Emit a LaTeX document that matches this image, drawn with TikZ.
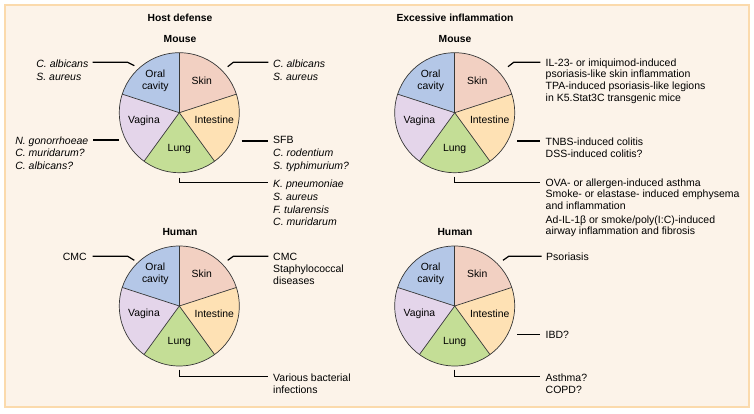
\documentclass[tikz,border=0pt]{standalone}
\usepackage{fontspec}
\setmainfont{Liberation Sans}
\usetikzlibrary{calc}
\definecolor{panelbg}{RGB}{252,243,233}
\definecolor{panelframe}{RGB}{251,218,172}
\definecolor{cOral}{RGB}{180,199,231}
\definecolor{cSkin}{RGB}{242,208,194}
\definecolor{cInt}{RGB}{254,225,180}
\definecolor{cLung}{RGB}{196,222,150}
\definecolor{cVag}{RGB}{228,213,234}
\definecolor{pieline}{RGB}{55,55,55}
\newcommand{\organpie}[2]{%
  \coordinate (#1) at #2;
  \fill[cSkin] (#1) -- ++(-90:60) arc[start angle=-90,end angle=-18,radius=60] -- cycle;
  \fill[cInt]  (#1) -- ++(-18:60) arc[start angle=-18,end angle=54,radius=60] -- cycle;
  \fill[cLung] (#1) -- ++(54:60) arc[start angle=54,end angle=126,radius=60] -- cycle;
  \fill[cVag]  (#1) -- ++(126:60) arc[start angle=126,end angle=198,radius=60] -- cycle;
  \fill[cOral] (#1) -- ++(198:60) arc[start angle=198,end angle=270,radius=60] -- cycle;
  \draw[pieedge] (#1) circle[radius=60];
  \foreach \a in {-90,-18,54,126,198} \draw[pieedge] (#1) -- ++(\a:60);
  \node[slice] (#1-oral) at ($(#1)+(-24,-32)$) {Oral\\cavity};
  \node[slice] (#1-skin) at ($(#1)+(22.5,-32)$) {Skin};
  \node[slice] (#1-int)  at ($(#1)+(35,7.5)$) {Intestine};
  \node[slice] (#1-vag)  at ($(#1)+(-35.3,8.2)$) {Vagina};
  \node[slice] (#1-lung) at ($(#1)+(0,36)$) {Lung};
}
\begin{document}
\begin{tikzpicture}[x=1pt,y=-1pt,
  lbl/.style={font=\fontsize{10.5}{11.8}\selectfont, inner sep=0pt, align=left},
  ilbl/.style={lbl, font=\fontsize{10.5}{11.8}\selectfont\itshape},
  titletext/.style={font=\fontsize{10.3}{12}\selectfont\bfseries, inner sep=0pt},
  slice/.style={font=\fontsize{10.4}{12.5}\selectfont, inner sep=0pt, align=center},
  pieedge/.style={pieline, line width=0.7pt},
  conn/.style={line width=1.2pt, black},
]
\useasboundingbox (0,0) rectangle (754,414);
\fill[white] (0,0) rectangle (754,414);
\draw[panelframe, line width=1.6pt, fill=panelbg] (5,5) rectangle (749,407);

% titles
\node[titletext] (tHost) at (180,18.3) {Host defense};
\node[titletext] (tExc) at (455,18.3) {Excessive inflammation};
\node[titletext] (tMouseL) at (180,39) {Mouse};
\node[titletext] (tMouseR) at (455,39) {Mouse};
\node[titletext] (tHumanL) at (180,232) {Human};
\node[titletext] (tHumanR) at (455,232) {Human};

% pies
\organpie{tl}{(179.3,112.7)}
\organpie{tr}{(454.7,112.7)}
\organpie{bl}{(179.3,306)}
\organpie{br}{(454.7,306)}

% ---------- top left ----------
\coordinate (tlOa) at (134.3,65.7); \coordinate (tlOb) at (127.7,62.3); \coordinate (tlOc) at (92.7,62.3);
\draw[conn] (tlOa) -- (tlOb) -- (tlOc);
\node[ilbl, anchor=north east] (tlOlab) at (88.5,59.5) {C. albicans\\[1pt]S. aureus};

\coordinate (tlSa) at (227.7,66.7); \coordinate (tlSb) at (233.3,62.3); \coordinate (tlSc) at (268.3,62.3);
\draw[conn] (tlSa) -- (tlSb) -- (tlSc);
\node[ilbl, anchor=north west] (tlSlab) at (273,59.5) {C. albicans\\[1pt]S. aureus};

\coordinate (tlIa) at (241.7,141); \coordinate (tlIb) at (268.3,141);
\draw[conn] (tlIa) -- (tlIb);
\node[lbl, anchor=north west] (tlIlab) at (273,136.2) {SFB\\[1.2pt]\textit{C. rodentium}\\[1.2pt]\textit{S. typhimurium?}};

\coordinate (tlVa) at (119,140); \coordinate (tlVb) at (92.7,140);
\draw[conn] (tlVa) -- (tlVb);
\node[ilbl, anchor=north east] (tlVlab) at (88.5,136.2) {N. gonorrhoeae\\[1pt]C. muridarum?\\[1pt]C. albicans?};

\coordinate (tlLa) at (179.3,177.7); \coordinate (tlLb) at (179.3,182.3); \coordinate (tlLc) at (268.3,182.3);
\draw[conn] (tlLa) -- (tlLb) -- (tlLc);
\node[ilbl, anchor=north west] (tlLlab) at (273,179.7) {K. pneumoniae\\[1pt]S. aureus\\[1pt]F. tularensis\\[1pt]C. muridarum};

% ---------- top right ----------
\coordinate (trSa) at (508,66.7); \coordinate (trSb) at (513.7,62.3); \coordinate (trSc) at (540.3,62.3);
\draw[conn] (trSa) -- (trSb) -- (trSc);
\node[lbl, anchor=north west] (trSlab) at (545.5,58.3) {IL-23- or imiquimod-induced\\psoriasis-like skin inflammation\\TPA-induced psoriasis-like legions\\in K5.Stat3C transgenic mice};

\coordinate (trIa) at (517,141); \coordinate (trIb) at (540.3,141);
\draw[conn] (trIa) -- (trIb);
\node[lbl, anchor=north west] (trIlab) at (545.5,137.2) {TNBS-induced colitis\\[0.5pt]DSS-induced colitis?};

\coordinate (trLa) at (454.7,176.7); \coordinate (trLb) at (454.7,182.3); \coordinate (trLc) at (540.3,182.3);
\draw[conn] (trLa) -- (trLb) -- (trLc);
\node[lbl, anchor=north west] (trLlab) at (545.5,178.3) {OVA- or allergen-induced asthma\\Smoke- or elastase- induced emphysema\\and inflammation\\[1.6pt]Ad-IL-1β or smoke/poly(I:C)-induced\\airway inflammation and fibrosis};

% ---------- bottom left ----------
\coordinate (blOa) at (134.3,260.3); \coordinate (blOb) at (127.7,256.3); \coordinate (blOc) at (92.7,256.3);
\draw[conn] (blOa) -- (blOb) -- (blOc);
\node[lbl, anchor=north east] (blOlab) at (87,252.5) {CMC};

\coordinate (blSa) at (227.7,260.3); \coordinate (blSb) at (233.3,256.3); \coordinate (blSc) at (268.3,256.3);
\draw[conn] (blSa) -- (blSb) -- (blSc);
\node[lbl, anchor=north west] (blSlab) at (273,252.5) {CMC\\[0.3pt]Staphylococcal\\[0.3pt]diseases};

\coordinate (blLa) at (179.3,369.7); \coordinate (blLb) at (179.3,376.3); \coordinate (blLc) at (268.3,376.3);
\draw[conn] (blLa) -- (blLb) -- (blLc);
\node[lbl, anchor=north west] (blLlab) at (273,373.2) {Various bacterial\\[0.8pt]infections};

% ---------- bottom right ----------
\coordinate (brSa) at (503,260.3); \coordinate (brSb) at (508.7,256.3); \coordinate (brSc) at (541.5,256.3);
\draw[conn] (brSa) -- (brSb) -- (brSc);
\node[lbl, anchor=north west] (brSlab) at (546,252.5) {Psoriasis};

\coordinate (brIa) at (517,334.7); \coordinate (brIb) at (540.3,334.7);
\draw[conn] (brIa) -- (brIb);
\node[lbl, anchor=north west] (brIlab) at (545.5,330.9) {IBD?};

\coordinate (brLa) at (454.7,369.7); \coordinate (brLb) at (454.7,376.3); \coordinate (brLc) at (540.3,376.3);
\draw[conn] (brLa) -- (brLb) -- (brLc);
\node[lbl, anchor=north west] (brLlab) at (545.5,373.2) {Asthma?\\[0.8pt]COPD?};
\end{tikzpicture}
\end{document}
